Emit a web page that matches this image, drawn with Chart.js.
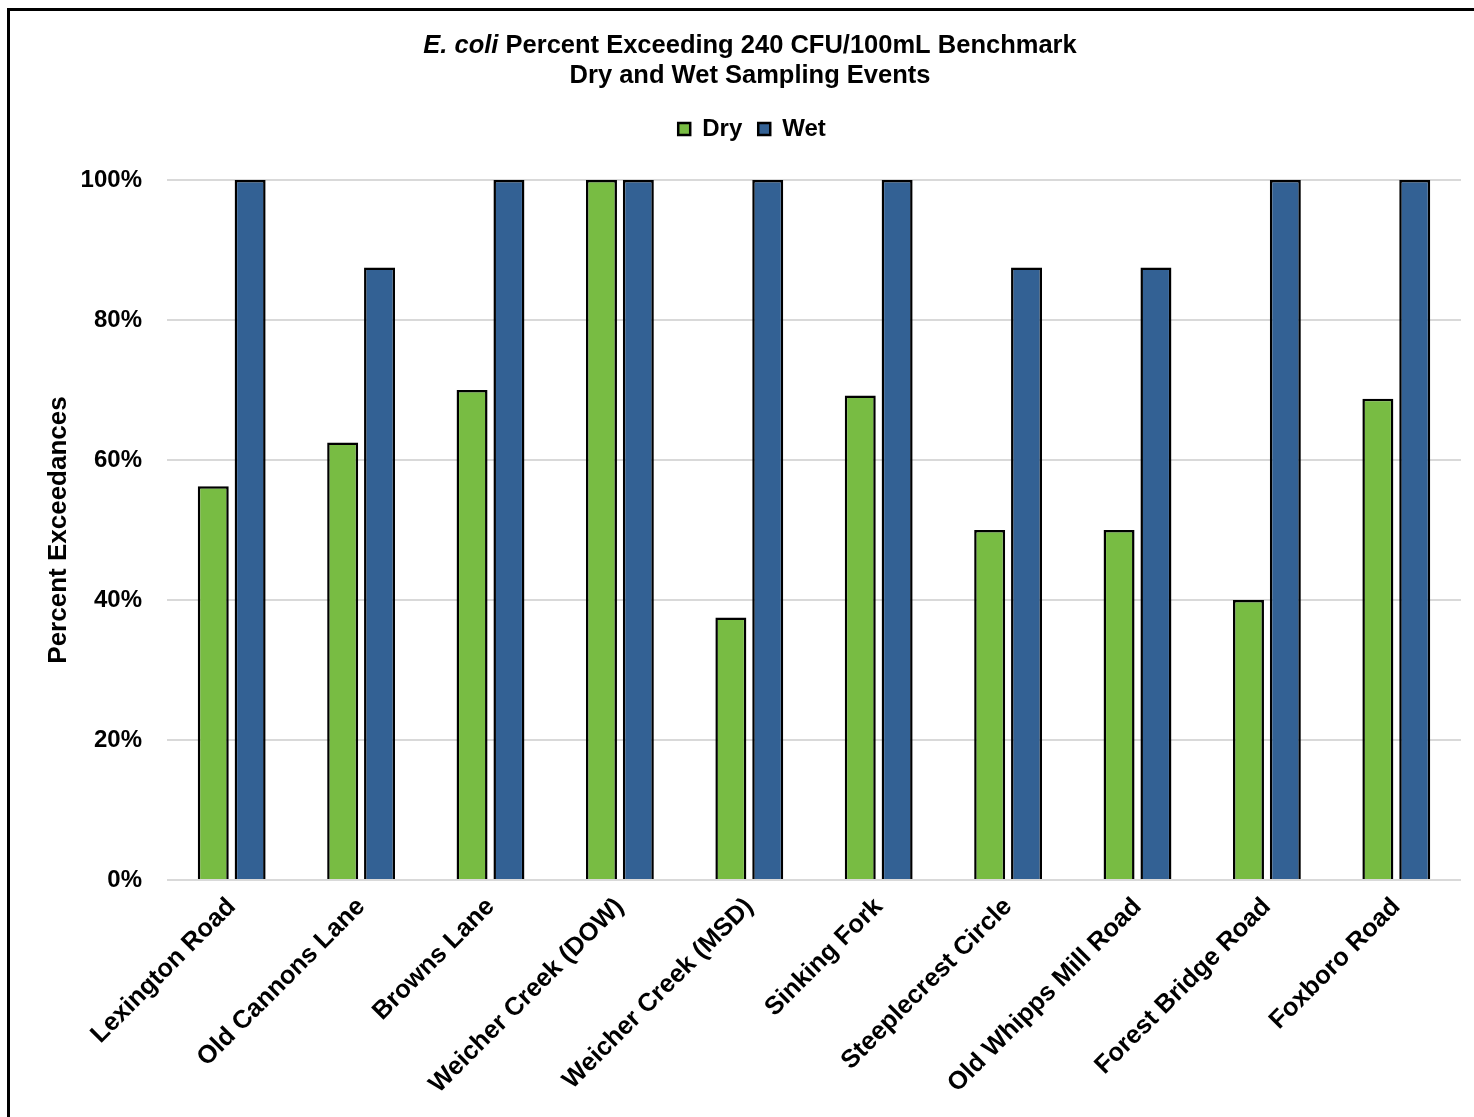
<!DOCTYPE html>
<html>
<head>
<meta charset="utf-8">
<script src="https://cdn.jsdelivr.net/npm/chart.js@4.4.1/dist/chart.umd.min.js"></script>
<style>
  html, body { margin: 0; padding: 0; background: #fff; overflow: hidden; }
  #frame { position: absolute; left: 7px; top: 8px; width: 1500px; height: 1150px;
           border-left: 3px solid #000; border-top: 3px solid #000; }
  #wrap { position: absolute; left: 0; top: 0; width: 1474px; height: 1117px; }
</style>
</head>
<body>
<div id="frame"></div>
<div id="wrap"><canvas id="chart" width="1474" height="1117"></canvas></div>
<script>
// Sampling sites and percent of samples exceeding the benchmark
const sites = [
  'Lexington Road', 'Old Cannons Lane', 'Browns Lane', 'Weicher Creek (DOW)',
  'Weicher Creek (MSD)', 'Sinking Fork', 'Steeplecrest Circle', 'Old Whipps Mill Road',
  'Forest Bridge Road', 'Foxboro Road'
];
const dryPct = [56.25, 62.5, 70, 100, 37.5, 69.2, 50, 50, 40, 68.75];
const wetPct = [100, 87.5, 100, 100, 100, 100, 87.5, 87.5, 100, 100];
const yTicks = [0, 20, 40, 60, 80, 100];

const titleItalic = 'E. coli';
const titleRest = ' Percent Exceeding 240 CFU/100mL Benchmark';
const titleLine2 = 'Dry and Wet Sampling Events';

const FONT = "'Liberation Sans', Arial, sans-serif";

// Two-line heading with the organism name in italics
const headingPlugin = {
  id: 'heading',
  afterDraw(chart) {
    const ctx = chart.ctx;
    const cx = 750;
    ctx.save();
    ctx.fillStyle = '#000';
    ctx.textBaseline = 'middle';
    ctx.textAlign = 'left';
    const fItalic = 'italic bold 25.5px ' + FONT;
    const fBold = 'bold 25.5px ' + FONT;
    ctx.font = fItalic;
    const w1 = ctx.measureText(titleItalic).width;
    ctx.font = fBold;
    const w2 = ctx.measureText(titleRest).width;
    const x = cx - (w1 + w2) / 2;
    ctx.font = fItalic;
    ctx.fillText(titleItalic, x, 46);
    ctx.font = fBold;
    ctx.fillText(titleRest, x + w1, 46);
    ctx.textAlign = 'center';
    ctx.fillText(titleLine2, cx, 76);
    ctx.restore();
  }
};

// Extra space beneath the legend row
const legendSpacer = {
  id: 'legendSpacer',
  beforeInit(chart) {
    const origFit = chart.legend.fit;
    chart.legend.fit = function () {
      origFit.bind(this)();
      this.height = 79;
    };
  }
};

new Chart(document.getElementById('chart'), {
  type: 'bar',
  data: {
    labels: sites,
    datasets: [
      { label: 'Dry', data: dryPct, backgroundColor: '#78bc43', borderColor: '#000', borderWidth: 2.5,
        barPercentage: 0.84, categoryPercentage: 0.57 },
      { label: 'Wet', data: wetPct, backgroundColor: '#336194', borderColor: '#000', borderWidth: 2.5,
        barPercentage: 0.84, categoryPercentage: 0.57 }
    ]
  },
  options: {
    responsive: false,
    animation: false,
    layout: { padding: { top: 101, left: 43, right: 13, bottom: 0 } },
    plugins: {
      title: { display: false },
      tooltip: { enabled: false },
      legend: {
        display: true,
        position: 'top',
        labels: {
          color: '#000',
          font: { family: FONT, size: 24, weight: 'bold' },
          boxWidth: 12, boxHeight: 12, padding: 16
        }
      }
    },
    scales: {
      x: {
        grid: { display: false, drawTicks: false },
        border: { display: false },
        ticks: {
          color: '#000', font: { family: FONT, size: 25.5, weight: 'bold' },
          maxRotation: 45, minRotation: 45, autoSkip: false, padding: 12
        },
        afterFit(scale) { scale.height = 237; }
      },
      y: {
        min: 0, max: 100,
        afterBuildTicks(scale) { scale.ticks = yTicks.map(v => ({ value: v })); },
        grid: { color: '#d9d9d9', lineWidth: 2, drawTicks: false },
        border: { display: false },
        ticks: {
          color: '#000', font: { family: FONT, size: 24, weight: 'bold' }, padding: 25,
          callback: v => v + '%'
        },
        title: {
          display: true, text: 'Percent Exceedances', color: '#000',
          font: { family: FONT, size: 26, weight: 'bold' }, padding: 0
        },
        afterFit(scale) { scale.width = 124; }
      }
    }
  },
  plugins: [headingPlugin, legendSpacer]
});
</script>
</body>
</html>
